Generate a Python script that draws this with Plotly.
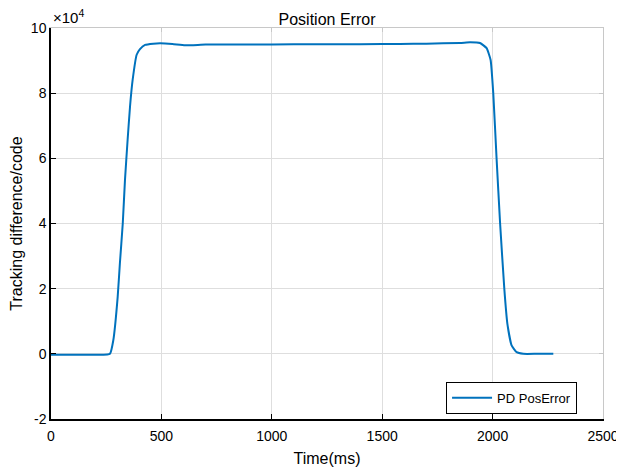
import plotly.graph_objects as go

# Data (y in units of 1e4 code)
time_ms = [0, 100, 200, 255, 267, 282, 302, 312, 325, 335, 347, 358, 370, 388, 403, 426,
           463, 494, 550, 607, 700, 900, 1100, 1300, 1500, 1580, 1700, 1852, 1898, 1943,
           1973, 1991, 2003, 2018, 2034, 2053, 2067, 2086, 2109, 2139, 2200, 2275]
pos_error = [-0.03, -0.03, -0.03, -0.02, 0.0, 0.41, 1.75, 2.78, 4.0, 5.33, 6.57, 7.6, 8.42, 9.18, 9.35, 9.48,
             9.52, 9.53, 9.51, 9.47, 9.49, 9.49, 9.5, 9.5, 9.51, 9.51, 9.52, 9.54, 9.56, 9.54,
             9.38, 9.02, 8.0, 6.0, 4.0, 2.0, 0.92, 0.26, 0.05, 0.0, 0.0, 0.0]

x_ticks = [0, 500, 1000, 1500, 2000, 2500]
x_tick_labels = ["0", "500", "1000", "1500", "2000", "2500"]
y_ticks = [-2, 0, 2, 4, 6, 8, 10]
y_tick_labels = ["-2", "0", "2", "4", "6", "8", "10"]

FONT = "Liberation Sans, Arial, sans-serif"
GRID = "#dedede"
BOX = "#c8c8c8"

fig = go.Figure()
fig.add_trace(go.Scatter(x=time_ms, y=pos_error, mode="lines", name="PD PosError",
                         line=dict(color="#0072BD", width=2, shape="spline", smoothing=0.4)))
# dummy trace for top/right mirror axes
fig.add_trace(go.Scatter(x=[], y=[], xaxis="x2", yaxis="y2", showlegend=False, hoverinfo="skip"))

fig.update_layout(
    width=624, height=469,
    margin=dict(l=43, r=29, t=20, b=58),
    paper_bgcolor="white", plot_bgcolor="white",
    font=dict(family=FONT, size=14, color="black"),
    title=dict(text="Position Error", x=0.5, xanchor="center", xref="paper",
               y=1, yref="paper", yanchor="bottom", pad=dict(b=3),
               font=dict(family=FONT, size=16, color="black")),
    xaxis=dict(range=[0, 2500], tickvals=x_ticks, ticktext=x_tick_labels, ticks="inside",
               ticklen=5, tickcolor="black",
               showline=True, linecolor="black", linewidth=1.5, showgrid=True, gridcolor=GRID,
               gridwidth=1, zeroline=False, automargin=False, ticklabelstandoff=3,
               title=dict(text="Time(ms)", standoff=10, font=dict(size=16)),
               tickfont=dict(size=14)),
    yaxis=dict(range=[-2, 10], tickvals=y_ticks, ticktext=y_tick_labels, ticks="inside",
               ticklen=5, tickcolor="black",
               showline=True, linecolor="black", linewidth=1.5, showgrid=True, gridcolor=GRID,
               gridwidth=1, zeroline=False, automargin=False,
               title=dict(text="Tracking difference/code", standoff=4, font=dict(size=16)),
               tickfont=dict(size=14)),
    xaxis2=dict(range=[0, 2500], tickvals=x_ticks, overlaying="x", side="top", anchor="y",
                ticks="inside", ticklen=4, tickcolor=BOX, showticklabels=False, showline=True,
                linecolor=BOX, linewidth=1, showgrid=False, zeroline=False, automargin=False),
    yaxis2=dict(range=[-2, 10], tickvals=y_ticks, overlaying="y", side="right", anchor="x",
                ticks="inside", ticklen=4, tickcolor=BOX, showticklabels=False, showline=True,
                linecolor=BOX, linewidth=1, showgrid=False, zeroline=False, automargin=False),
    legend=dict(x=0.953, y=0.013, xanchor="right", yanchor="bottom", bgcolor="white",
                bordercolor="black", borderwidth=1, font=dict(size=13),
                itemwidth=40, tracegroupgap=0),
    showlegend=True,
)

fig.add_annotation(text="×10<sup>4</sup>", xref="paper", yref="paper", x=0, y=1,
                   xanchor="left", yanchor="bottom", showarrow=False,
                   font=dict(family=FONT, size=15, color="black"), xshift=0, yshift=0)

fig.write_html("out.html")
